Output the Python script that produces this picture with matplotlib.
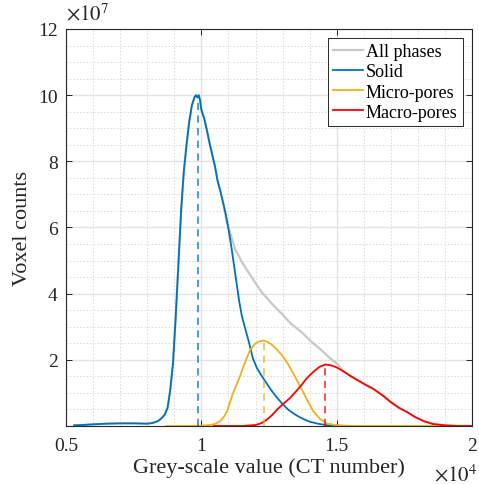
import matplotlib
matplotlib.use('Agg')
import matplotlib.pyplot as plt
from matplotlib.ticker import MultipleLocator, FixedLocator, FixedFormatter

plt.rcParams['font.family'] = ['Liberation Serif', 'DejaVu Serif']

# grey-scale value (CT number) and voxel counts (x 1e7)
solid_x = [5300, 5600, 6000, 6500, 7000, 7500, 8000, 8200, 8400, 8550, 8650, 8750, 8850,
           8950, 9050, 9150, 9250, 9350, 9450, 9550, 9650, 9750, 9800, 9850, 9900, 9950,
           10000, 10100, 10200, 10300, 10400, 10500, 10600, 10700, 10800, 10900, 11000,
           11100, 11250, 11400, 11500, 11600, 11750, 11900, 12050, 12200, 12400, 12600,
           12800, 13000, 13200, 13400, 13600, 13800, 14000, 14300, 14600, 15000, 15500]
solid_y = [0.02, 0.03, 0.05, 0.07, 0.08, 0.08, 0.07, 0.09, 0.15, 0.25, 0.35, 0.55, 1.1,
           1.9, 3.3, 4.9, 6.5, 7.7, 8.5, 9.2, 9.7, 9.95, 10.0, 9.93, 10.0, 9.85,
           9.55, 9.3, 8.95, 8.55, 8.2, 7.85, 7.4, 7.1, 6.75, 6.4, 5.95,
           5.45, 4.6, 3.75, 3.3, 3.0, 2.55, 2.05, 1.75, 1.55, 1.3, 1.06,
           0.85, 0.66, 0.5, 0.38, 0.28, 0.2, 0.13, 0.07, 0.03, 0.01, 0.0]

micro_x = [8700, 9500, 10000, 10300, 10500, 10700, 10850, 10950, 11050, 11170, 11300,
           11430, 11600, 11800, 12000, 12150, 12300, 12450, 12600, 12800, 13000, 13200,
           13400, 13650, 13900, 14130, 14400, 14640, 15000, 15500, 20000]
micro_y = [0.0, 0.0, 0.01, 0.03, 0.06, 0.15, 0.3, 0.45, 0.7, 1.0, 1.25,
           1.51, 1.9, 2.3, 2.5, 2.56, 2.58, 2.54, 2.46, 2.3, 2.12, 1.87,
           1.58, 1.2, 0.8, 0.45, 0.2, 0.07, 0.02, 0.0, 0.0]

macro_x = [10450, 11500, 12000, 12200, 12400, 12600, 12800, 13000, 13277, 13500, 13709,
           13900, 14140, 14350, 14570, 14800, 15000, 15250, 15490, 15800, 16100, 16355,
           16720, 17000, 17300, 17600, 17900, 18200, 18560, 19000, 19500, 20000]
macro_y = [0.0, 0.0, 0.03, 0.08, 0.18, 0.32, 0.5, 0.65, 0.85, 1.05, 1.25,
           1.45, 1.64, 1.78, 1.86, 1.83, 1.77, 1.65, 1.52, 1.37, 1.23, 1.12,
           0.91, 0.72, 0.55, 0.42, 0.27, 0.15, 0.06, 0.02, 0.0, 0.0]

all_x = [10800, 10938, 11000, 11245, 11500, 11737, 11950, 12230, 12600, 12970, 13300,
         13709, 14100, 14448, 14750, 15060, 15250, 15490, 15800, 16100, 16355, 16720,
         17000, 17300, 17600, 17900, 18200, 18560, 19000, 19500, 20000]
all_y = [6.75, 6.16, 6.0, 5.35, 4.95, 4.65, 4.38, 4.04, 3.7, 3.39, 3.1,
         2.83, 2.52, 2.28, 2.05, 1.85, 1.65, 1.52, 1.37, 1.23, 1.12, 0.91,
         0.72, 0.55, 0.42, 0.27, 0.15, 0.06, 0.02, 0.0, 0.0]

# peak positions (dashed markers)
peak_x = [9880, 12300, 14570]
peak_y = [9.85, 2.58, 1.86]

blue = '#0072BD'
yellow = '#EDB120'
red = '#FF0000'
grey = '#C8C8C8'

fig = plt.figure(figsize=(4.79, 4.85), dpi=100)
ax = fig.add_axes([0.138, 0.1196, 0.8475, 0.8186])

# grey curve follows the solid one up to where it separates
grey_x = [x for x in solid_x if x < 10800] + all_x
grey_y = [y for x, y in zip(solid_x, solid_y) if x < 10800] + all_y

scale = 1e7
ax.plot(grey_x, [v * scale for v in grey_y], color=grey, lw=1.6, label='All phases')
ax.plot(solid_x, [v * scale for v in solid_y], color=blue, lw=1.3, label='Solid')
ax.plot(micro_x, [v * scale for v in micro_y], color=yellow, lw=1.3, label='Micro-pores')
ax.plot(macro_x, [v * scale for v in macro_y], color=red, lw=1.3, label='Macro-pores')

for px, py, c in zip(peak_x, peak_y, [blue, yellow, red]):
    ax.plot([px, px], [0, py * scale], color=c, lw=1.3, ls=(0, (4, 3)), alpha=0.75)

ax.set_xlim(5000, 20000)
ax.set_ylim(0, 12e7)

ax.xaxis.set_major_locator(FixedLocator([5000, 10000, 15000, 20000]))
ax.xaxis.set_major_formatter(FixedFormatter(['0.5', '1', '1.5', '2']))
ax.xaxis.set_minor_locator(MultipleLocator(1000))
ax.yaxis.set_major_locator(FixedLocator([2e7, 4e7, 6e7, 8e7, 10e7, 12e7]))
ax.yaxis.set_major_formatter(FixedFormatter(['2', '4', '6', '8', '10', '12']))
ax.yaxis.set_minor_locator(MultipleLocator(0.5e7))

ax.grid(which='major', color='#e3e3e3', lw=1.0, ls='-')
ax.grid(which='minor', color='#d8d8d8', lw=0.7, ls=(0, (1.5, 2)))
ax.set_axisbelow(True)

ax.tick_params(which='major', direction='in', length=4, width=0.7, color='#262626',
               top=True, right=True, labelsize=14, labelcolor='#262626')
ax.tick_params(axis='x', which='major', pad=8)
ax.tick_params(axis='y', which='major', pad=6)
ax.tick_params(which='minor', length=0, top=True, right=True)
for s in ax.spines.values():
    s.set_color('#262626')
    s.set_linewidth(0.8)

ax.set_xlabel('Grey-scale value (CT number)', fontsize=16, color='#262626', labelpad=2)
ax.set_ylabel('Voxel counts', fontsize=16, color='#262626', labelpad=4)

ax.text(0.0, 1.012, r'$\times10^{7}$', transform=ax.transAxes, fontsize=15,
        color='#262626', ha='left', va='bottom', math_fontfamily='stix')
ax.text(1.012, -0.095, r'$\times10^{4}$', transform=ax.transAxes, fontsize=15,
        color='#262626', ha='right', va='top', math_fontfamily='stix')

leg = ax.legend(loc='upper right', fontsize=13, frameon=True, fancybox=False,
                edgecolor='#262626', framealpha=1, handlelength=1.65, handletextpad=0.15,
                borderpad=0.3, labelspacing=0.17, borderaxespad=0.5)
leg.get_frame().set_linewidth(0.7)

fig.savefig('out.png', dpi=100)
